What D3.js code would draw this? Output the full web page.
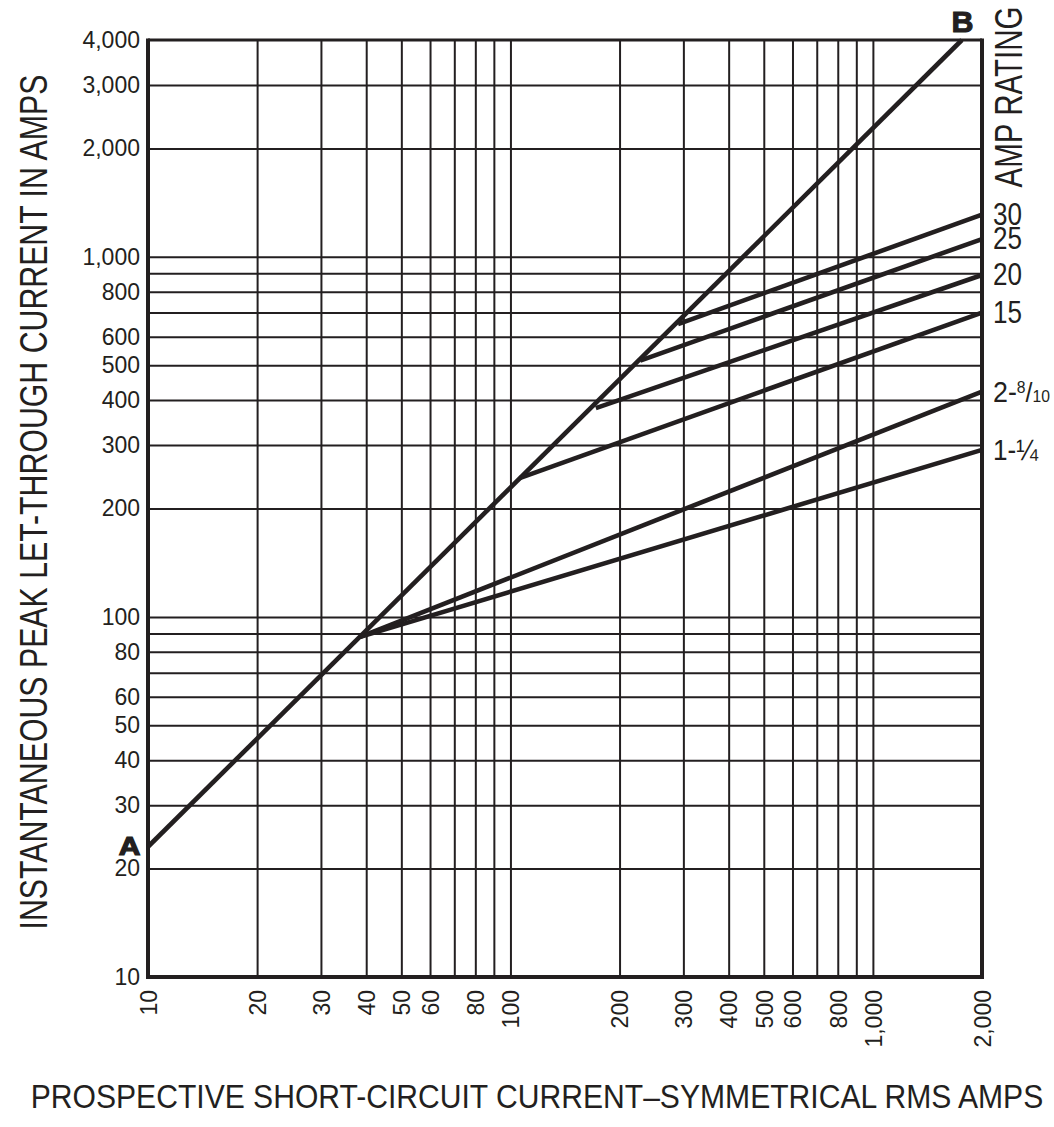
<!DOCTYPE html>
<html>
<head>
<meta charset="utf-8">
<script src="https://cdn.jsdelivr.net/npm/d3@7"></script>
<style>
  html, body { margin: 0; padding: 0; background: #ffffff; }
  svg { display: block; }
  text { font-family: "Liberation Sans", Arial, Helvetica, sans-serif; fill: #231f20; }
</style>
</head>
<body>
<svg id="chart" width="1054" height="1127"></svg>
<script>
// ---- data ----
const xGridValues = [20, 30, 40, 50, 60, 70, 80, 90, 100, 200, 300, 400, 500, 600, 700, 800, 900, 1000];
const yGridValues = [20, 30, 40, 50, 60, 70, 80, 90, 100, 200, 300, 400, 500, 600, 700, 800, 900, 1000, 2000, 3000];
const xTickLabels = [10, 20, 30, 40, 50, 60, 80, 100, 200, 300, 400, 500, 600, 800, 1000, 2000];
const yTickLabels = [10, 20, 30, 40, 50, 60, 80, 100, 200, 300, 400, 500, 600, 800, 1000, 2000, 3000, 4000];

// Threshold line A-B
const limitLineX = [10, 1760];
const limitLineY = [23, 4000];

// Amp-rating curves: start and end points (x = prospective RMS amps, y = peak let-through amps)
const ratingNames = ["30", "25", "20", "15", "2-8/10", "1-1/4"];
const ratingStartX = [290, 228, 172, 106, 38.5, 38.5];
const ratingStartY = [650, 515, 380, 243, 88, 88];
const ratingEndX = [2000, 2000, 2000, 2000, 2000, 2000];
const ratingEndY = [1310, 1120, 890, 700, 422, 291];

const xTitle = "PROSPECTIVE SHORT-CIRCUIT CURRENT\u2013SYMMETRICAL RMS AMPS";
const yTitle = "INSTANTANEOUS PEAK LET-THROUGH CURRENT IN AMPS";
const ratingTitle = "AMP RATING";

// ---- layout ----
const INK = "#231f20";
const M = { left: 148, right: 982, top: 40, bottom: 977 };

const svg = d3.select("#chart");
const x = d3.scaleLog().domain([10, 2000]).range([M.left, M.right]);
const y = d3.scaleLog().domain([10, 4000]).range([M.bottom, M.top]);

// scale a text horizontally (in its own frame) to a target length
function fitText(sel, base, target) {
  const len = sel.node().getComputedTextLength();
  sel.attr("transform", `${base} scale(${target / len},1)`);
  return sel;
}

// grid lines
const gx = svg.append("g").attr("transform", `translate(0,${M.bottom})`)
  .call(d3.axisBottom(x).tickValues(xGridValues).tickSize(-(M.bottom - M.top)).tickFormat(""));
gx.select(".domain").remove();
gx.selectAll("line").attr("stroke", INK).attr("stroke-width", 2);

const gy = svg.append("g").attr("transform", `translate(${M.left},0)`)
  .call(d3.axisLeft(y).tickValues(yGridValues).tickSize(-(M.right - M.left)).tickFormat(""));
gy.select(".domain").remove();
gy.selectAll("line").attr("stroke", INK).attr("stroke-width", 2);

// tick labels
const fmt = d3.format(",");
const ly = svg.append("g").attr("transform", `translate(${M.left},0)`)
  .call(d3.axisLeft(y).tickValues(yTickLabels).tickSize(0).tickPadding(8).tickFormat(fmt));
ly.select(".domain").remove();
ly.selectAll("text").attr("font-size", 23).attr("fill", INK)
  .style("font-family", '"Liberation Sans", Arial, sans-serif');

const lx = svg.append("g").attr("transform", `translate(0,${M.bottom})`)
  .call(d3.axisBottom(x).tickValues(xTickLabels).tickSize(0).tickFormat(fmt));
lx.select(".domain").remove();
lx.selectAll("text")
  .attr("font-size", 23).attr("fill", INK)
  .style("font-family", '"Liberation Sans", Arial, sans-serif')
  .attr("transform", "rotate(-90)")
  .attr("x", -13).attr("y", 0).attr("dy", "0.36em")
  .style("text-anchor", "end");

// frame
const frame = svg.append("g").attr("stroke", INK).attr("fill", "none");
frame.append("line").attr("x1", M.left).attr("x2", M.right).attr("y1", M.top).attr("y2", M.top).attr("stroke-width", 3);
frame.append("line").attr("x1", M.left).attr("x2", M.left).attr("y1", M.top - 1.5).attr("y2", M.bottom + 2).attr("stroke-width", 4);
frame.append("line").attr("x1", M.right).attr("x2", M.right).attr("y1", M.top - 1.5).attr("y2", M.bottom + 2).attr("stroke-width", 4);
frame.append("line").attr("x1", M.left - 2).attr("x2", M.right + 2).attr("y1", M.bottom).attr("y2", M.bottom).attr("stroke-width", 4);

// curves
const lineGen = d3.line().x(d => x(d[0])).y(d => y(d[1]));
const curves = svg.append("g").attr("stroke", INK).attr("fill", "none").attr("stroke-width", 4.6);
curves.append("path")
  .attr("d", lineGen(limitLineX.map((v, i) => [v, limitLineY[i]])));
ratingNames.forEach((n, i) => {
  curves.append("path")
    .attr("d", lineGen([[ratingStartX[i], ratingStartY[i]], [ratingEndX[i], ratingEndY[i]]]));
});

// rating labels
const labX = M.right + 11;
ratingNames.forEach((n, i) => {
  const by = y(ratingEndY[i]) + 10;
  const base = `translate(${labX},${by})`;
  const t = svg.append("text").attr("x", 0).attr("y", 0).attr("font-size", 31);
  if (n === "2-8/10") {
    t.attr("font-size", 29);
    t.append("tspan").text("2-");
    t.append("tspan").text("8").attr("font-size", 17).attr("dy", -9);
    t.append("tspan").text("/").attr("font-size", 27).attr("dy", 9);
    t.append("tspan").text("10").attr("font-size", 17);
    fitText(t, base, 57);
  } else if (n === "1-1/4") {
    t.attr("font-size", 29).text("1-\u00BC");
    fitText(t, base, 45);
  } else {
    t.text(n);
    fitText(t, base, 29);
  }
});

// A / B markers
svg.append("text").attr("transform", "translate(129.5,855) scale(1.2,1)").attr("text-anchor", "middle")
  .attr("font-size", 25).attr("font-weight", "bold")
  .attr("stroke", INK).attr("stroke-width", 1.2).text("A");
svg.append("text").attr("transform", "translate(962.5,32) scale(1.05,1)").attr("text-anchor", "middle")
  .attr("font-size", 29).attr("font-weight", "bold")
  .attr("stroke", INK).attr("stroke-width", 1).text("B");

// titles
fitText(svg.append("text")
  .attr("x", 0).attr("y", 0).attr("text-anchor", "middle")
  .attr("font-size", 34).text(xTitle), "translate(537,1108)", 1013);

fitText(svg.append("text")
  .attr("x", 0).attr("y", 0).attr("text-anchor", "middle")
  .attr("font-size", 38).text(yTitle), "translate(47,502) rotate(-90)", 855);

fitText(svg.append("text")
  .attr("x", 0).attr("y", 0).attr("text-anchor", "middle")
  .attr("font-size", 38).text(ratingTitle), "translate(1022,97) rotate(-90)", 181);
</script>
</body>
</html>
